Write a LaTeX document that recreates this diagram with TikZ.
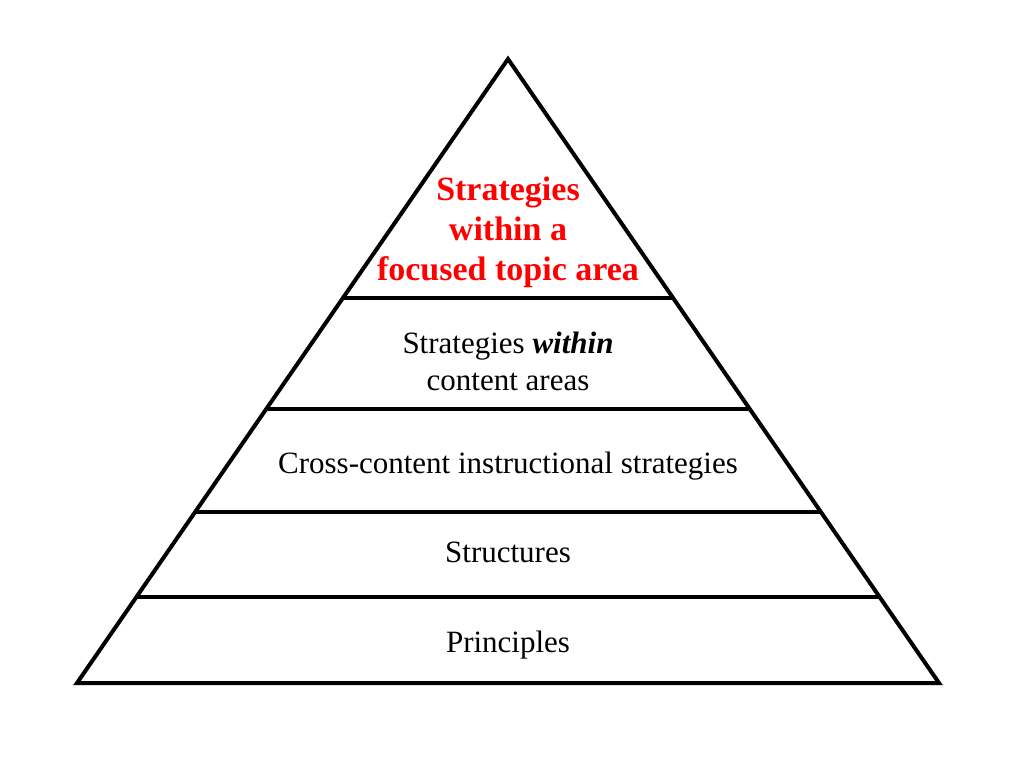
\documentclass[tikz,border=0pt]{standalone}
\usepackage{fontspec}
\setmainfont{Liberation Serif}
\usetikzlibrary{calc}
\begin{document}
\begin{tikzpicture}[x=1pt,y=-1pt,
  edge/.style={line width=4pt,line join=miter},
  lbl/.style={anchor=base,font=\fontsize{31}{37}\selectfont,inner sep=0pt},
  toplbl/.style={anchor=base,font=\fontsize{34}{40}\selectfont\bfseries,text=red,inner sep=0pt}]
\useasboundingbox (0,0) rectangle (1024,768);
\coordinate (A) at (508,59);
\coordinate (L) at (77,683);
\coordinate (R) at (939,683);
\draw[edge] (A) -- (L) -- (R) -- cycle;
\foreach \t [count=\i] in {0.1378,0.274,0.439,0.617}{
  \coordinate (l\i) at ($(L)!\t!(A)$);
  \coordinate (r\i) at ($(R)!\t!(A)$);
  \draw[edge] (l\i) -- (r\i);
}
\node[toplbl] (t1) at (508,200) {Strategies};
\node[toplbl] (t2) at (508,240) {within a};
\node[toplbl] (t3) at (508,280) {focused topic area};
\node[lbl] (s1) at (508,353) {Strategies \textbf{\textit{within}}};
\node[lbl] (s2) at (508,390) {content areas};
\node[lbl] (c) at (508,473) {Cross-content instructional strategies};
\node[lbl] (st) at (508,562) {Structures};
\node[lbl] (p) at (508,652) {Principles};
\end{tikzpicture}
\end{document}
